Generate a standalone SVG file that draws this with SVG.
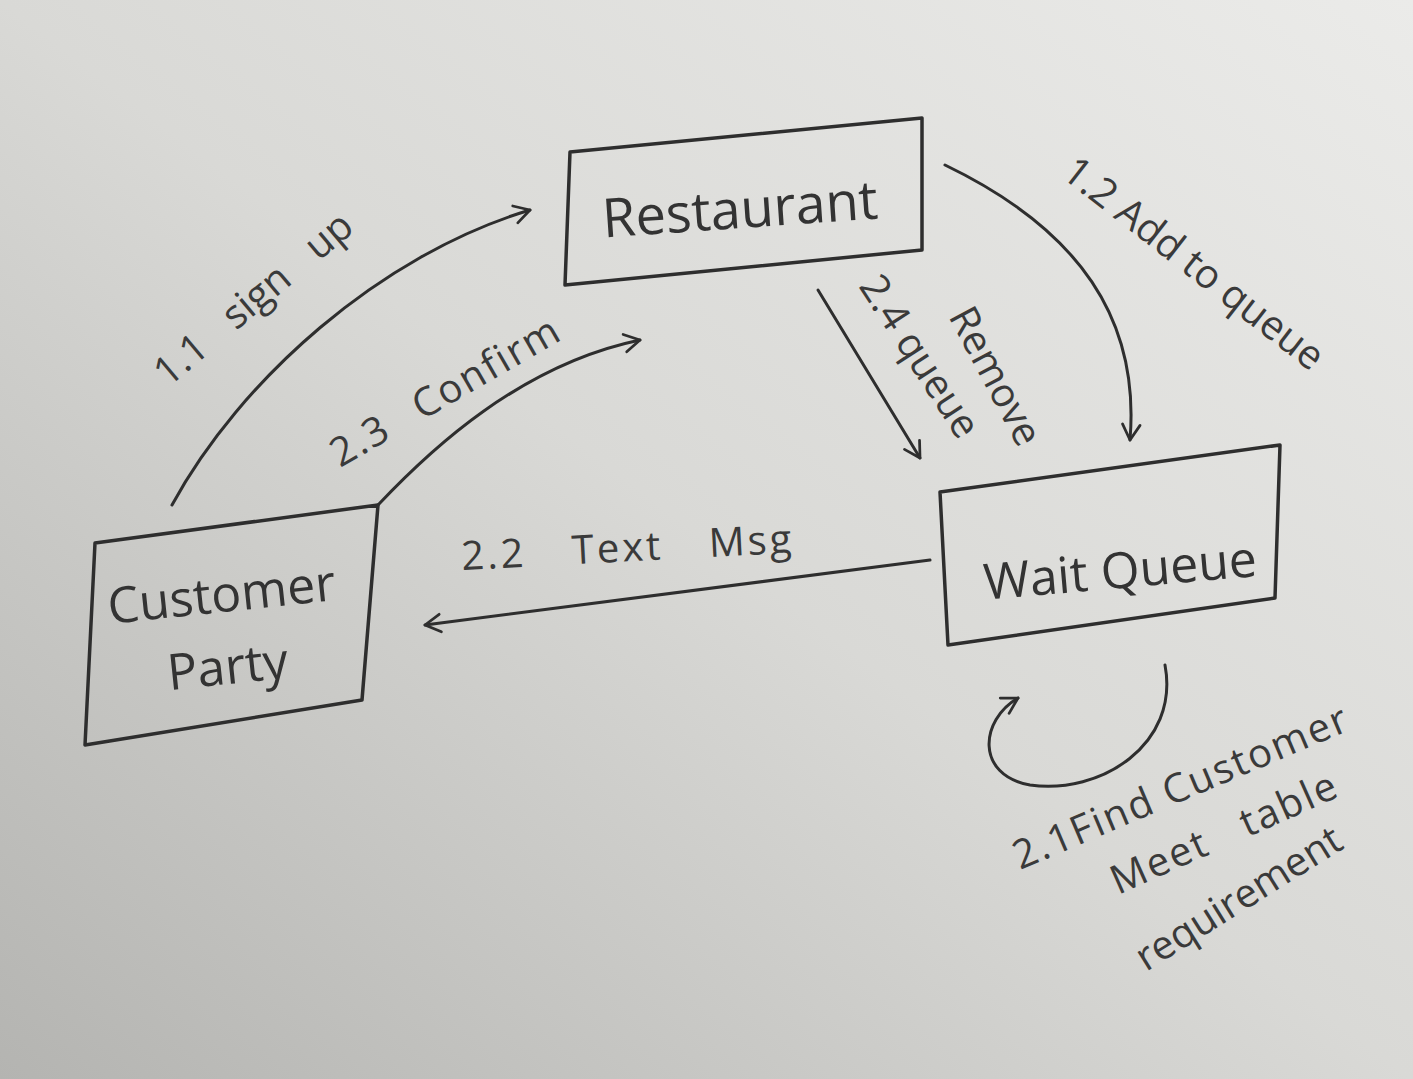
<svg xmlns="http://www.w3.org/2000/svg" width="1413" height="1079" viewBox="0 0 1413 1079">
<defs>
<linearGradient id="paper" x1="1" y1="0" x2="0" y2="1">
<stop offset="0" stop-color="#ebebe9"/>
<stop offset="0.5" stop-color="#d9d9d6"/>
<stop offset="1" stop-color="#b4b4b1"/>
</linearGradient>
<marker id="arr" viewBox="0 0 20 20" refX="16" refY="10" markerWidth="22" markerHeight="22" markerUnits="userSpaceOnUse" orient="auto">
<path d="M2,2 L16,10 L2,18" fill="none" stroke="#2e2e2e" stroke-width="2.5" stroke-linecap="round" stroke-linejoin="round"/>
</marker>
<style>
.box{fill:none;stroke:#2e2e2e;stroke-width:3.5;stroke-linejoin:round}
.edge{fill:none;stroke:#2e2e2e;stroke-width:3;stroke-linecap:round;marker-end:url(#arr)}
.node{font-family:"Open Sans","DejaVu Sans",sans-serif;fill:#333;font-size:54px}
.lbl{font-family:"Open Sans","DejaVu Sans",sans-serif;fill:#3a3a3a;font-size:40px}
</style>
</defs>
<rect x="0" y="0" width="1413" height="1079" fill="url(#paper)"/>
<g id="restaurant">
<path class="box" d="M570,152 L922,118 L922,250 L565,285 Z"/>
<text class="node" x="740" y="228" text-anchor="middle" transform="rotate(-4 740 210)">Restaurant</text>
</g>
<g id="customer-party">
<path class="box" d="M95,543 L378,505 L362,700 L85,745 Z"/>
<text class="node" x="222" y="612" text-anchor="middle" transform="rotate(-6 222 600)" style="font-size:50px">Customer</text>
<text class="node" x="228" y="684" text-anchor="middle" transform="rotate(-6 228 670)" style="font-size:50px">Party</text>
</g>
<g id="wait-queue">
<path class="box" d="M940,492 L1280,445 L1275,598 L948,645 Z"/>
<text class="node" x="1120" y="588" text-anchor="middle" transform="rotate(-5 1120 570)" style="font-size:50px">Wait Queue</text>
</g>
<g id="connectors">
<path class="edge" d="M172,505 C240,380 380,255 530,210"/>
<path class="edge" d="M378,505 C430,450 520,365 640,340"/>
<path class="edge" d="M945,165 C1080,230 1140,320 1130,440"/>
<path class="edge" d="M818,290 L920,458"/>
<path class="edge" d="M930,560 L425,625"/>
<path class="edge" d="M1165,665 C1180,745 1100,795 1030,785 C975,775 980,720 1018,698"/>
</g>
<g id="labels">
<text class="lbl" x="168" y="388" transform="rotate(-40 168 388)" style="word-spacing:22px">1.1 sign up</text>
<text class="lbl" x="340" y="468" transform="rotate(-30 340 468)" style="word-spacing:20px;letter-spacing:2px">2.3 Confirm</text>
<text class="lbl" x="1060" y="176" transform="rotate(38 1060 176)">1.2 Add to queue</text>
<text class="lbl" x="948" y="316" transform="rotate(62 948 316)">Remove</text>
<text class="lbl" x="858" y="286" transform="rotate(57 858 286)">2.4 queue</text>
<text class="lbl" x="462" y="570" transform="rotate(-3 462 570)" style="word-spacing:32px;letter-spacing:3px">2.2 Text Msg</text>
<text class="lbl" x="1020" y="870" transform="rotate(-23 1020 870)" style="letter-spacing:2px">2.1Find Customer</text>
<text class="lbl" x="1118" y="895" transform="rotate(-24 1118 895)" style="word-spacing:26px;letter-spacing:2px">Meet table</text>
<text class="lbl" x="1146" y="972" transform="rotate(-32 1146 972)">requirement</text>
</g>
</svg>
